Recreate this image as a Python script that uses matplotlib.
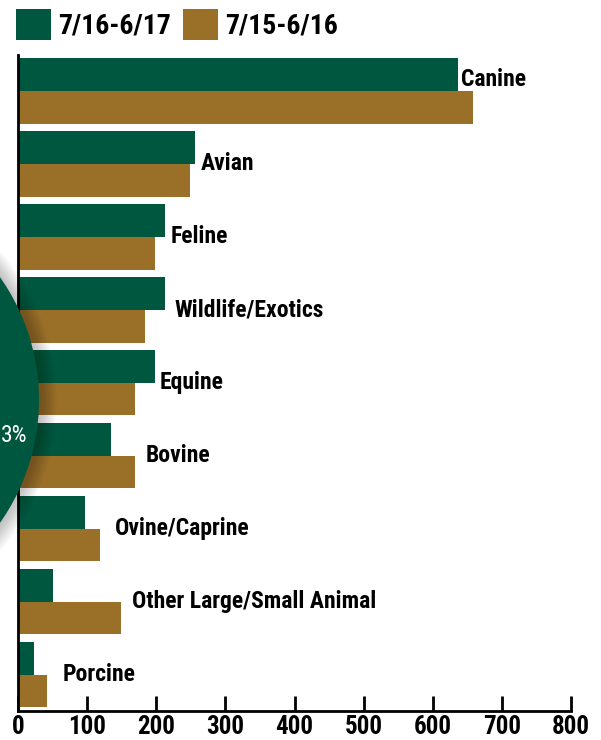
import matplotlib
matplotlib.use("Agg")
import matplotlib.pyplot as plt
from matplotlib.patches import Patch, Circle
import numpy as np

categories = ["Canine", "Avian", "Feline", "Wildlife/Exotics", "Equine", "Bovine",
              "Ovine/Caprine", "Other Large/Small Animal", "Porcine"]
fy17 = [637, 256, 213, 213, 198, 135, 97, 51, 23]
fy16 = [658, 249, 198, 184, 169, 169, 119, 149, 42]
series_names = ["7/16-6/17", "7/15-6/16"]
xticks = [0, 100, 200, 300, 400, 500, 600, 700, 800]
circle_text = "3%"

GREEN = "#00573f"
GOLD = "#9a6f28"
FONT = ["Roboto Condensed", "Fira Sans Condensed", "DejaVu Sans"]
plt.rcParams["font.family"] = FONT

W, H = 601, 740
fig = plt.figure(figsize=(W / 100, H / 100), dpi=100)

left, right, top, bottom = 18, 571, 55, 711
ax = fig.add_axes([left / W, 1 - bottom / H, (right - left) / W, (bottom - top) / H])

y = np.arange(len(categories))
bh = 0.45
ax.barh(y - bh / 2, fy17, height=bh, color=GREEN, zorder=2)
ax.barh(y + bh / 2, fy16, height=bh, color=GOLD, zorder=2)
ax.set_xlim(0, 800)
ax.set_ylim(8.5, -0.49)

label_pad = [4, 8, 8, 14, 7, 16, 21, 16, 23]
for i, (c, a, b) in enumerate(zip(categories, fy17, fy16)):
    if i == 0:
        lx, ly = a + label_pad[i], i - 0.15
    else:
        lx, ly = max(a, b) + label_pad[i], i
    ax.text(lx, ly, c, ha="left", va="center", fontsize=17,
            fontweight="bold", color="black", zorder=3)

ax.set_xticks(xticks)
ax.set_xticklabels([str(t) for t in xticks], fontsize=18, fontweight="bold")
ax.set_yticks([])
ax.tick_params(axis="x", direction="in", length=11, width=2, pad=3, colors="black")
for s in ["top", "right"]:
    ax.spines[s].set_visible(False)
for s in ["left", "bottom"]:
    ax.spines[s].set_linewidth(2)
    ax.spines[s].set_color("black")

handles = [Patch(facecolor=GREEN, edgecolor="none"), Patch(facecolor=GOLD, edgecolor="none")]
leg = fig.legend(handles, series_names, loc="upper left", bbox_to_anchor=(16 / W, 1 - 9 / H),
                 ncol=2, frameon=False, prop={"weight": "bold", "size": 20},
                 handlelength=1.26, handleheight=1.33, handletextpad=0.25, columnspacing=0.45,
                 borderaxespad=0, borderpad=0)

ov = fig.add_axes([0, 0, 1, 1], zorder=5)
ov.set_xlim(0, W)
ov.set_ylim(H, 0)
ov.axis("off")
ov.patch.set_alpha(0)
cx, cy, r = -174, 400, 213
for k in range(10):
    ov.add_patch(Circle((cx + 2, cy + 1), r + 1 + k * 1.6, facecolor="black",
                        alpha=0.022, edgecolor="none"))
ov.add_patch(Circle((cx, cy), r, facecolor=GREEN, edgecolor="none"))
ov.text(1, 435, circle_text, ha="left", va="center", color="white", fontsize=17)

fig.savefig("out.png", dpi=100)
